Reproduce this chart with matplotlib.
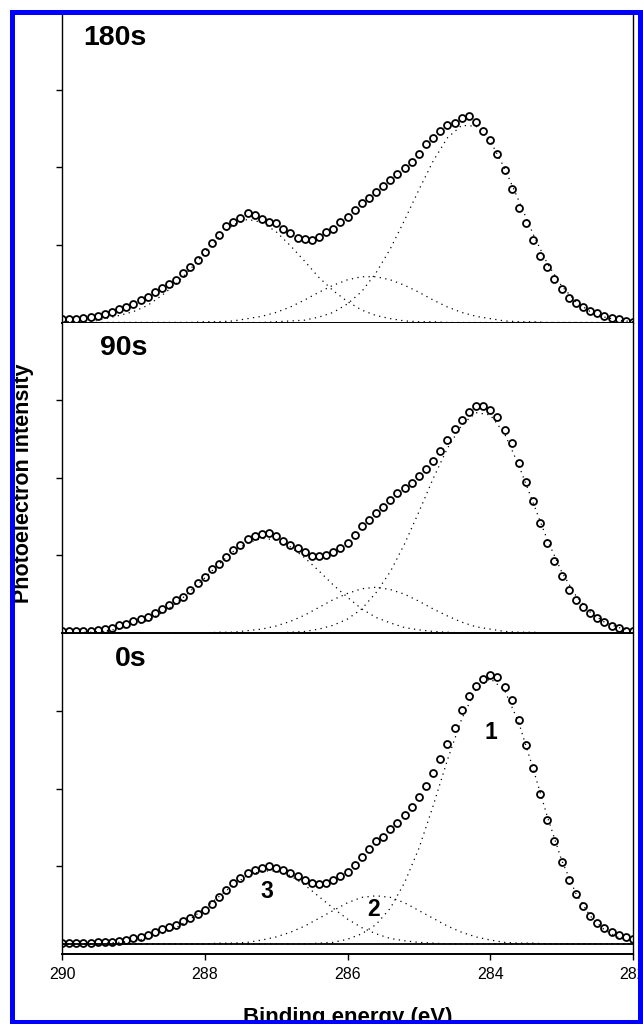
import matplotlib
matplotlib.use("Agg")
import matplotlib.pyplot as plt
import numpy as np
from matplotlib.patches import Rectangle

plt.rcParams['font.family'] = ['Liberation Sans', 'DejaVu Sans']

# binding energy grids (eV): measured points every 0.1 eV, fitted curves every 0.2 eV
energy = np.round(np.linspace(290.0, 282.0, 81), 1)
energy_fit = np.round(np.linspace(290.0, 282.0, 41), 1)

# measured C1s spectra (open circles)
data_180s = [0.04, 0.04, 0.05, 0.06, 0.07, 0.09, 0.11, 0.14, 0.17, 0.20,
             0.24, 0.29, 0.33, 0.39, 0.44, 0.50, 0.55, 0.64, 0.72, 0.80,
             0.91, 1.02, 1.13, 1.24, 1.30, 1.35, 1.41, 1.39, 1.34, 1.30,
             1.28, 1.21, 1.15, 1.09, 1.07, 1.06, 1.10, 1.16, 1.21, 1.29,
             1.36, 1.45, 1.54, 1.61, 1.68, 1.76, 1.84, 1.91, 1.99, 2.07,
             2.17, 2.30, 2.38, 2.47, 2.54, 2.57, 2.63, 2.66, 2.58, 2.47,
             2.35, 2.17, 1.97, 1.72, 1.48, 1.28, 1.06, 0.86, 0.71, 0.56,
             0.43, 0.32, 0.25, 0.20, 0.15, 0.12, 0.09, 0.06, 0.04, 0.02,
             0.01]
data_90s = [0.02, 0.03, 0.03, 0.03, 0.03, 0.04, 0.05, 0.07, 0.10, 0.12,
            0.15, 0.18, 0.21, 0.26, 0.31, 0.36, 0.42, 0.47, 0.56, 0.64,
            0.72, 0.82, 0.89, 0.98, 1.07, 1.14, 1.21, 1.25, 1.28, 1.29,
            1.25, 1.19, 1.14, 1.10, 1.05, 0.99, 0.99, 1.01, 1.04, 1.09,
            1.16, 1.26, 1.38, 1.45, 1.54, 1.62, 1.71, 1.80, 1.87, 1.93,
            2.02, 2.11, 2.22, 2.35, 2.49, 2.63, 2.75, 2.85, 2.92, 2.92,
            2.87, 2.78, 2.62, 2.45, 2.19, 1.94, 1.70, 1.42, 1.16, 0.93,
            0.73, 0.56, 0.42, 0.34, 0.26, 0.19, 0.14, 0.09, 0.06, 0.03,
            0.02]
data_0s = [0.01, 0.01, 0.01, 0.01, 0.01, 0.02, 0.02, 0.03, 0.04, 0.05,
           0.07, 0.09, 0.12, 0.15, 0.19, 0.22, 0.25, 0.29, 0.33, 0.38,
           0.44, 0.52, 0.61, 0.70, 0.78, 0.85, 0.91, 0.95, 0.98, 1.00,
           0.98, 0.95, 0.92, 0.87, 0.82, 0.79, 0.77, 0.79, 0.82, 0.87,
           0.93, 1.02, 1.12, 1.22, 1.32, 1.38, 1.48, 1.56, 1.66, 1.77,
           1.89, 2.03, 2.20, 2.38, 2.57, 2.78, 3.01, 3.19, 3.32, 3.42,
           3.47, 3.44, 3.31, 3.14, 2.88, 2.56, 2.27, 1.93, 1.60, 1.32,
           1.05, 0.83, 0.64, 0.49, 0.36, 0.27, 0.20, 0.15, 0.12, 0.09,
           0.06]

# fitted components 1, 2, 3 (dotted)
peak1_180s = [0, 0, 0, 0, 0, 0, 0, 0, 0, 0, 0, 0, 0, 0, 0,
              0.01, 0.02, 0.03, 0.07, 0.13, 0.24, 0.40, 0.64, 0.95, 1.32,
              1.71, 2.08, 2.38, 2.54, 2.53, 2.34, 1.99, 1.57, 1.14, 0.76,
              0.47, 0.27, 0.14, 0.07, 0.03, 0.01]
peak2_180s = [0, 0, 0, 0, 0, 0, 0, 0, 0, 0,
              0.01, 0.01, 0.02, 0.05, 0.08, 0.13, 0.20, 0.29, 0.39, 0.48,
              0.55, 0.59, 0.59, 0.55, 0.48, 0.39, 0.29, 0.20, 0.13, 0.08,
              0.05, 0.02, 0.01, 0.01, 0, 0, 0, 0, 0, 0, 0]
peak3_180s = [0.01, 0.01, 0.02, 0.05, 0.09, 0.14, 0.22, 0.35, 0.50, 0.69,
              0.90, 1.10, 1.26, 1.33, 1.29, 1.17, 0.99, 0.79, 0.58, 0.41,
              0.27, 0.16, 0.09, 0.05, 0.02, 0.01, 0.01, 0, 0, 0,
              0, 0, 0, 0, 0, 0, 0, 0, 0, 0, 0]

peak1_90s = [0, 0, 0, 0, 0, 0, 0, 0, 0, 0, 0, 0, 0, 0, 0,
             0.00, 0.01, 0.02, 0.05, 0.10, 0.18, 0.31, 0.52, 0.79, 1.15,
             1.56, 1.99, 2.38, 2.68, 2.84, 2.81, 2.57, 2.16, 1.68, 1.20,
             0.79, 0.48, 0.27, 0.14, 0.07, 0.03]
peak2_90s = [0, 0, 0, 0, 0, 0, 0, 0, 0, 0,
             0.00, 0.01, 0.01, 0.03, 0.05, 0.09, 0.15, 0.23, 0.33, 0.43,
             0.51, 0.57, 0.59, 0.56, 0.50, 0.41, 0.31, 0.22, 0.14, 0.08,
             0.05, 0.02, 0.01, 0.01, 0, 0, 0, 0, 0, 0, 0]
peak3_90s = [0.00, 0.01, 0.01, 0.03, 0.05, 0.10, 0.16, 0.26, 0.38, 0.54,
             0.71, 0.89, 1.05, 1.16, 1.22, 1.20, 1.11, 0.97, 0.80, 0.62,
             0.46, 0.31, 0.20, 0.13, 0.07, 0.04, 0.02, 0.01, 0, 0,
             0, 0, 0, 0, 0, 0, 0, 0, 0, 0, 0]

peak1_0s = [0, 0, 0, 0, 0, 0, 0, 0, 0, 0, 0, 0, 0, 0, 0, 0, 0,
            0.00, 0.01, 0.02, 0.06, 0.13, 0.25, 0.46, 0.79, 1.23, 1.78,
            2.37, 2.90, 3.28, 3.42, 3.27, 2.85, 2.26, 1.64, 1.08, 0.65,
            0.36, 0.18, 0.08, 0.03]
peak2_0s = [0, 0, 0, 0, 0, 0, 0, 0, 0, 0,
            0.00, 0.01, 0.01, 0.02, 0.05, 0.09, 0.15, 0.23, 0.33, 0.43,
            0.53, 0.60, 0.62, 0.60, 0.53, 0.43, 0.33, 0.23, 0.15, 0.09,
            0.05, 0.02, 0.01, 0.01, 0, 0, 0, 0, 0, 0, 0]
peak3_0s = [0, 0, 0, 0.01, 0.02, 0.04, 0.07, 0.13, 0.21, 0.32,
            0.46, 0.61, 0.76, 0.88, 0.94, 0.94, 0.88, 0.76, 0.61, 0.46,
            0.32, 0.21, 0.13, 0.07, 0.04, 0.02, 0.01, 0, 0, 0,
            0, 0, 0, 0, 0, 0, 0, 0, 0, 0, 0]

times = ['180s', '90s', '0s']
spectra = [data_180s, data_90s, data_0s]
fits = [[peak1_180s, peak2_180s, peak3_180s],
        [peak1_90s, peak2_90s, peak3_90s],
        [peak1_0s, peak2_0s, peak3_0s]]

# peak numbers written in the 0s panel
peak_names = ['1', '2', '3']
peak_label_x = [283.99, 285.63, 287.13]
peak_label_y = [2.72, 0.44, 0.67]

xticks = [290, 288, 286, 284, 282]

W, H = 643, 1024
fig = plt.figure(figsize=(W / 100, H / 100), dpi=100)

# panel boxes in pixels: (top, bottom), 77.6 px per intensity unit
boxes = [(12.1, 322.5), (322.6, 633.0), (633.5, 954.0)]
left_px, right_px = 62, 633

for k, (t, b) in enumerate(boxes):
    ax = fig.add_axes([left_px / W, 1 - b / H, (right_px - left_px) / W, (b - t) / H])
    last = k == len(boxes) - 1

    for comp in fits[k]:
        ax.plot(energy_fit, comp, color='k', lw=0.9, linestyle=(0, (1, 3.5)), zorder=2)
    ax.plot(energy, spectra[k], linestyle='none', marker='o', ms=5.0,
            mfc='none', mec='k', mew=1.3, zorder=3)

    ax.set_xlim(290, 282)
    if last:
        ax.set_ylim(-0.13, 4.0)
        ax.axhline(0, color='k', lw=1.3, zorder=1)
    else:
        ax.set_ylim(0, 4.0)

    ax.set_yticks([1, 2, 3])
    ax.set_yticklabels([])
    ax.tick_params(axis='y', direction='out', length=4, width=1, right=False)

    ax.spines['top'].set_visible(False)
    ax.spines['left'].set_linewidth(1.0)
    ax.spines['right'].set_linewidth(1.0)
    ax.spines['bottom'].set_linewidth(1.4)

    if last:
        ax.set_xticks(xticks)
        ax.set_xticklabels([str(v) for v in xticks], fontsize=11.5)
        ax.tick_params(axis='x', direction='out', length=4.5, width=1, pad=5)
    else:
        ax.set_xticks([])

    ax.text(288.81, 3.67, times[k], ha='right', va='center',
            fontsize=20.5, fontweight='bold')

    if last:
        for name, px, py in zip(peak_names, peak_label_x, peak_label_y):
            ax.text(px, py, name, ha='center', va='center', fontsize=16.5, fontweight='bold')

fig.text(24 / W, 1 - 483 / H, 'Photoelectron intensity', rotation=90,
         ha='center', va='center', fontsize=15.5, fontweight='bold')
fig.text(348 / W, 1 - 1022.6 / H, 'Binding energy (eV)',
         ha='center', va='baseline', fontsize=16, fontweight='bold')

# blue frame around the whole figure
fig.add_artist(Rectangle((12 / W, 1 - 1022 / H), (640 - 12) / W, (1022 - 11.5) / H,
                         transform=fig.transFigure, fill=False,
                         edgecolor='#0000ff', lw=3.6, zorder=10))

fig.savefig('out.png', dpi=100)
